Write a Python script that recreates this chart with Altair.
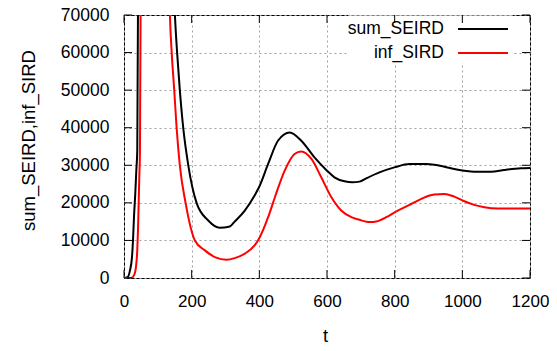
import altair as alt
import pandas as pd

series_names = ["sum_SEIRD", "inf_SIRD"]
series_colors = ["#000000", "#ff0000"]

t_sum = [0, 10, 17.7, 23.6, 26.6, 29.5, 33.3, 36.4, 39.2, 44, 80, 130, 150.5, 157, 165, 175,
         190, 214.5, 249, 283, 312.7, 327, 357, 386, 399, 426, 455, 490, 524, 563, 600,
         622, 652, 675, 696, 716, 755, 799, 844, 893, 917, 947, 976, 1006, 1035, 1085, 1124,
         1173, 1200]
v_sum = [0, 200, 2040, 5570, 10000, 16200, 22400, 28600, 33900, 120000, 260000, 140000,
         70000, 60000, 50000, 40000, 30000, 20000, 15300, 13370, 13700, 15000, 17960, 21940,
         24140, 30350, 36530, 38730, 36530, 32100, 28570, 26800, 25730, 25500, 25650,
         26520, 28100, 29440, 30340, 30340, 30160, 29630, 29020, 28570, 28300, 28300,
         28750, 29180, 29280]

t_inf = [0, 21.6, 31.5, 36.4, 39.2, 41.3, 43.3, 45.2, 47.2, 51, 85, 125, 135.7, 141, 148.5,
         155.5, 165, 182, 209.5, 239, 268.5, 303, 327, 357, 386, 399, 426, 446, 475, 504,
         524, 554, 583, 613, 642, 672, 696, 716, 730, 745, 775, 804, 844, 873, 903, 917, 947,
         976, 1006, 1035, 1065, 1104, 1200]
v_inf = [0, 0, 1170, 3820, 7350, 12650, 19700, 26800, 33900, 110000, 250000, 130000, 70000,
         60000, 50000, 40000, 30000, 20000, 10000, 7350, 5570, 4880, 5300, 6470, 8680,
         10450, 16180, 21490, 28570, 33000, 33700, 31680, 26800, 21490, 17960, 16180,
         15490, 15000, 14900, 15050, 16180, 17690, 19470, 20800, 21940, 22200, 22390,
         21670, 20420, 19470, 18830, 18490, 18490]

x_ticks = [0, 200, 400, 600, 800, 1000, 1200]
y_ticks = [0, 10000, 20000, 30000, 40000, 50000, 60000, 70000]

W, H = 406, 263
FONT = "Liberation Sans"
FS = 17.5
TICK = 8

df = pd.concat([
    pd.DataFrame({"t": t_sum, "value": v_sum, "series": series_names[0]}),
    pd.DataFrame({"t": t_inf, "value": v_inf, "series": series_names[1]}),
])

xs = alt.Scale(domain=[0, 1200], nice=False, zero=False)
ys = alt.Scale(domain=[0, 70000], nice=False)

x_axis = alt.Axis(values=x_ticks, format="d", title="t", grid=True, gridDash=[2, 3],
                  gridColor="#a0a0a0", ticks=False, tickSize=0, domain=False, labelFont=FONT,
                  labelFontSize=17, labelColor="black", labelPadding=15, labelFlush=False,
                  titleFont=FONT, titleFontSize=18.5, titleFontWeight="normal",
                  titleColor="black", titleX=201, titleY=57, titleBaseline="middle",
                  titleAlign="center")
y_axis = alt.Axis(values=y_ticks, format="d", title="sum_SEIRD,inf_SIRD", grid=True,
                  gridDash=[2, 3], gridColor="#a0a0a0", ticks=False, tickSize=0, domain=False,
                  labelFont=FONT, labelFontSize=FS, labelColor="black", labelPadding=15,
                  labelFlush=False, titleFont=FONT, titleFontSize=18.5, titleFontWeight="normal",
                  titleColor="black", titleX=-96, titleY=125, titleAngle=270,
                  titleBaseline="middle", titleAlign="center")

X = alt.X("t:Q", scale=xs, axis=x_axis)
Y = alt.Y("value:Q", scale=ys, axis=y_axis)

lines = alt.Chart(df).mark_line(clip=True, strokeWidth=2, interpolate="monotone").encode(
    x=X, y=Y,
    color=alt.Color("series:N", scale=alt.Scale(domain=series_names, range=series_colors),
                    legend=None),
)

one = pd.DataFrame({"k": [0]})
box = alt.Chart(one).mark_rect(color="white").encode(
    x=alt.value(224), x2=alt.value(389), y=alt.value(0.5), y2=alt.value(49))

xt = pd.DataFrame({"t": x_ticks})
yt = pd.DataFrame({"value": y_ticks})
tick_bottom = alt.Chart(xt).mark_rule(color="black").encode(
    x=X, y=alt.value(H - TICK), y2=alt.value(H))
tick_top = alt.Chart(xt).mark_rule(color="black").encode(
    x=X, y=alt.value(0), y2=alt.value(TICK))
tick_left = alt.Chart(yt).mark_rule(color="black").encode(
    y=Y, x=alt.value(0), x2=alt.value(TICK))
tick_right = alt.Chart(yt).mark_rule(color="black").encode(
    y=Y, x=alt.value(W - TICK), x2=alt.value(W))

legend_layers = []
for i, (name, col) in enumerate(zip(series_names, series_colors)):
    yy = 14 + 24 * i
    legend_layers.append(alt.Chart(one).mark_text(
        align="right", baseline="middle", font=FONT, fontSize=FS, color="black").encode(
        x=alt.value(320), y=alt.value(yy), text=alt.value(name)))
    legend_layers.append(alt.Chart(one).mark_rule(color=col, strokeWidth=2).encode(
        x=alt.value(334), x2=alt.value(384), y=alt.value(yy)))

chart = alt.layer(lines, box, tick_bottom, tick_top, tick_left, tick_right,
                  *legend_layers).properties(
    width=W, height=H,
    autosize=alt.AutoSizeParams(type="none"),
    padding={"left": 116, "top": 7, "right": 19, "bottom": 66},
).configure_view(stroke="black", strokeWidth=1)

chart.save("out.html", embed_options={"renderer": "svg", "actions": False})
